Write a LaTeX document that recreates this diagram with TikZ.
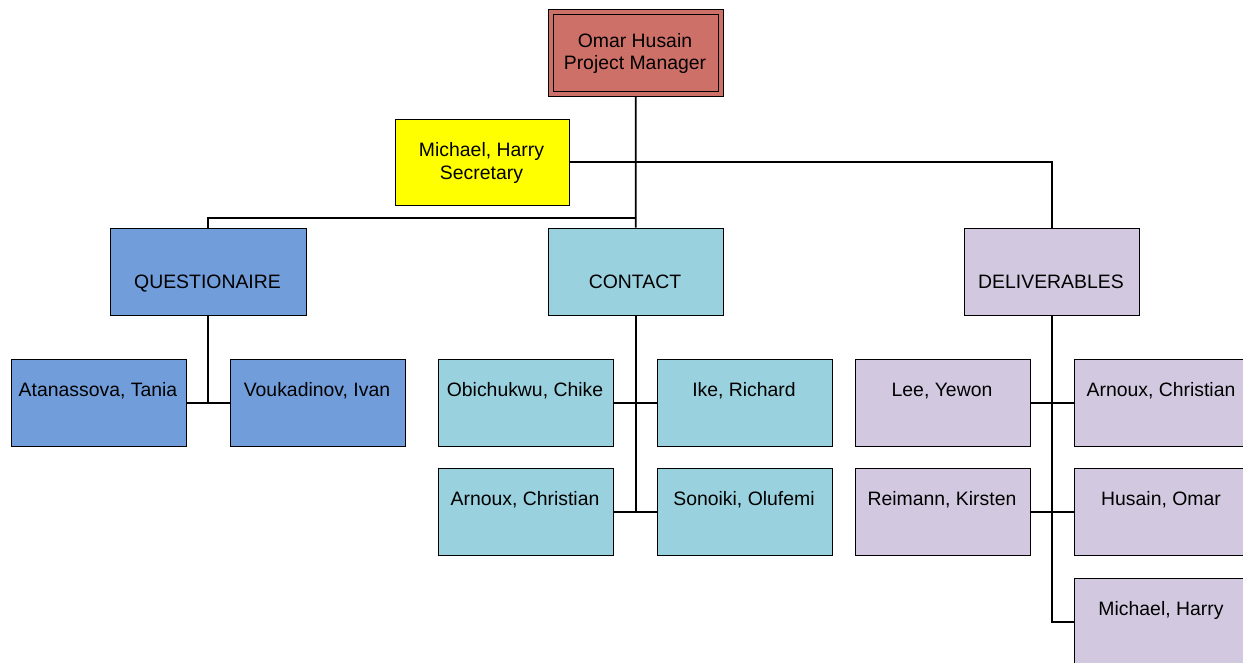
\documentclass[tikz,border=0pt]{standalone}
\usepackage{fontspec}
\setmainfont{Liberation Sans}
\definecolor{mgrfill}{RGB}{205,112,104}
\definecolor{secfill}{RGB}{255,255,0}
\definecolor{qfill}{RGB}{113,158,219}
\definecolor{cfill}{RGB}{153,209,222}
\definecolor{dfill}{RGB}{210,201,224}
\begin{document}
\begin{tikzpicture}[x=1pt,y=-1pt,
  box/.style={draw=black, line width=1.5pt, minimum width=175pt, minimum height=87pt,
              inner sep=0pt, anchor=north west},
  txt/.style={font=\fontsize{19.4}{22.5}\selectfont, inner sep=0pt, text=black,
              text height=13.9pt, text depth=0pt},
  conn/.style={draw=black, line width=1.7pt}]
\useasboundingbox (0,0) rectangle (1243,662);
\clip (0,0) rectangle (1243,662);

% project manager with double frame
\node[box, fill=mgrfill, line width=1.3pt] (top) at (547.5,8.5) {};
\node[draw=black, line width=1.3pt, minimum width=165pt, minimum height=77pt, inner sep=0pt] (topin) at (top.center) {};
\node[txt, align=center, text height=, text depth=] (topT) at (635,53.5) {Omar Husain\\Project Manager};

% secretary
\node[box, fill=secfill, minimum width=174pt, minimum height=86pt] (sec) at (394.5,118.5) {};
\node[txt, align=center, text height=, text depth=] (secT) at (481.5,163) {Michael, Harry\\Secretary};

% work groups
\node[box, fill=qfill, minimum width=196pt] (q) at (109.5,227.5) {};
\node[txt] (qT) at (207.5,282) {QUESTIONAIRE};
\node[box, fill=cfill] (contact) at (547.5,227.5) {};
\node[txt] (contactT) at (635,282) {CONTACT};
\node[box, fill=dfill] (deliv) at (963.5,227.5) {};
\node[txt] (delivT) at (1051,282) {DELIVERABLES};

% questionaire members
\node[box, fill=qfill] (ata) at (10.5,358.5) {};
\node[txt] (ataT) at (98,390) {Atanassova, Tania};
\node[box, fill=qfill] (vou) at (229.5,358.5) {};
\node[txt] (vouT) at (317,390) {Voukadinov, Ivan};

% contact members
\node[box, fill=cfill] (obi) at (437.5,358.5) {};
\node[txt] (obiT) at (525,390) {Obichukwu, Chike};
\node[box, fill=cfill] (ike) at (656.5,358.5) {};
\node[txt] (ikeT) at (744,390) {Ike, Richard};
\node[box, fill=cfill] (arc) at (437.5,467.5) {};
\node[txt] (arcT) at (525,499) {Arnoux, Christian};
\node[box, fill=cfill] (son) at (656.5,467.5) {};
\node[txt] (sonT) at (744,499) {Sonoiki, Olufemi};

% deliverables members
\node[box, fill=dfill] (lee) at (854.5,358.5) {};
\node[txt] (leeT) at (942,390) {Lee, Yewon};
\node[box, fill=dfill] (ard) at (1073.5,358.5) {};
\node[txt] (ardT) at (1161,390) {Arnoux, Christian};
\node[box, fill=dfill] (rei) at (854.5,467.5) {};
\node[txt] (reiT) at (942,499) {Reimann, Kirsten};
\node[box, fill=dfill] (hus) at (1073.5,467.5) {};
\node[txt] (husT) at (1161,499) {Husain, Omar};
\node[box, fill=dfill] (mic) at (1073.5,577.5) {};
\node[txt] (micT) at (1161,609) {Michael, Harry};

% connectors
\coordinate (busQ) at (635,218);
\draw[conn] (top.south) -- (contact.north);
\draw[conn] (q.north) |- (busQ);
\draw[conn] (sec.east) -| (deliv.north);

\draw[conn] (q.south) -- (q.south |- ata.east);
\draw[conn] (ata.east) -- (vou.west);

\draw[conn] (contact.south) -- (contact.south |- arc.east);
\draw[conn] (obi.east) -- (ike.west);
\draw[conn] (arc.east) -- (son.west);

\draw[conn] (deliv.south) |- (mic.west);
\draw[conn] (lee.east) -- (ard.west);
\draw[conn] (rei.east) -- (hus.west);
\end{tikzpicture}
\end{document}
